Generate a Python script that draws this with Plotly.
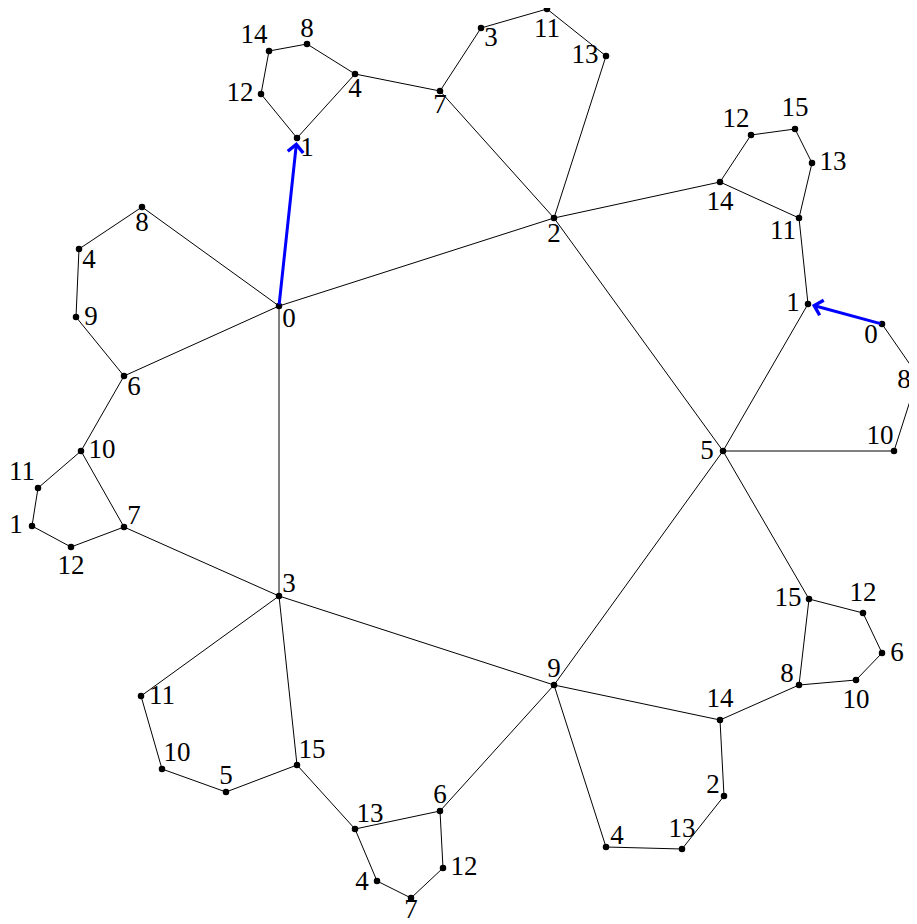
import plotly.graph_objects as go

# ---- data: node ids, labels and layout coordinates ----
node_ids = [
    "c0", "c2", "c5", "c9", "c3",
    "a8", "a4", "a9", "a6",
    "b10", "b11", "b1", "b12", "b7",
    "t1", "t12", "t14", "t8", "t4", "t7",
    "d3", "d11", "d13",
    "e14", "e12", "e15", "e13", "e11", "e1",
    "f0", "f8", "f10",
    "g15", "g12", "g6", "g10", "g8", "g14", "g2", "g13", "g4",
    "h11", "h10", "h5", "h15", "h13", "h6", "h12", "h7", "h4",
]
node_labels = [
    "0", "2", "5", "9", "3",
    "8", "4", "9", "6",
    "10", "11", "1", "12", "7",
    "1", "12", "14", "8", "4", "7",
    "3", "11", "13",
    "14", "12", "15", "13", "11", "1",
    "0", "8", "10",
    "15", "12", "6", "10", "8", "14", "2", "13", "4",
    "11", "10", "5", "15", "13", "6", "12", "7", "4",
]
node_x = [
    279, 554, 723, 554, 279,
    142, 79, 76, 124,
    81, 38, 32, 71, 124,
    297, 261, 269, 307, 355, 440,
    481, 547, 606,
    720, 751, 795, 812, 799, 808,
    882, 918, 894,
    809, 863, 882, 856, 799, 720, 724, 682, 606,
    141, 162, 226, 297, 355, 440, 443, 411, 377,
]
node_y = [
    306, 218, 451, 685, 596,
    207, 249, 317, 376,
    451, 488, 526, 547, 527,
    138, 94, 51, 44, 74, 91,
    28, 9, 56,
    182, 135, 129, 163, 218, 304,
    324, 376, 451,
    599, 613, 653, 680, 685, 720, 796, 849, 847,
    696, 769, 792, 765, 829, 811, 868, 898, 881,
]
edges = [
    ("c0", "c2"), ("c2", "c5"), ("c5", "c9"), ("c9", "c3"), ("c3", "c0"),
    ("c0", "a8"), ("a8", "a4"), ("a4", "a9"), ("a9", "a6"), ("a6", "c0"),
    ("a6", "b10"), ("b10", "b11"), ("b11", "b1"), ("b1", "b12"), ("b12", "b7"),
    ("b7", "b10"), ("b7", "c3"),
    ("t1", "t12"), ("t12", "t14"), ("t14", "t8"), ("t8", "t4"), ("t4", "t1"),
    ("t4", "t7"),
    ("t7", "d3"), ("d3", "d11"), ("d11", "d13"), ("d13", "c2"), ("t7", "c2"),
    ("c2", "e14"), ("e14", "e12"), ("e12", "e15"), ("e15", "e13"), ("e13", "e11"),
    ("e11", "e14"), ("e11", "e1"), ("e1", "c5"),
    ("f0", "f8"), ("f8", "f10"), ("f10", "c5"),
    ("c5", "g15"), ("g15", "g12"), ("g12", "g6"), ("g6", "g10"), ("g10", "g8"),
    ("g8", "g15"), ("g8", "g14"), ("g14", "c9"), ("g14", "g2"), ("g2", "g13"),
    ("g13", "g4"), ("g4", "c9"),
    ("c3", "h11"), ("h11", "h10"), ("h10", "h5"), ("h5", "h15"), ("h15", "c3"),
    ("h15", "h13"), ("h13", "h6"), ("h6", "c9"), ("h6", "h12"), ("h12", "h7"),
    ("h7", "h4"), ("h4", "h13"),
]
arrows = [("c0", "t1"), ("f0", "e1")]  # directed (blue) edges: from -> to

# ---- style: label offsets (dx, dy) relative to the node, screen-pixel units ----
label_offsets = [
    (10, 14), (0, 17), (-16, 1), (0, -15), (10, -11),
    (0, 17), (10, 12), (15, 1), (10, 12),
    (21, 0), (-16, -15), (-16, 0), (0, 20), (10, -10),
    (10, 11), (-21, 0), (-15, -15), (0, -14), (0, 16), (0, 15),
    (10, 11), (0, 21), (-21, 0),
    (0, 21), (-15, -15), (0, -20), (21, 0), (-16, 14), (-15, 0),
    (-11, 12), (-14, 5), (-14, -14),
    (-21, 0), (0, -19), (15, 1), (0, 21), (-12, -10), (0, -20), (-11, -10), (0, -19), (11, -10),
    (21, 1), (15, -15), (0, -15), (15, -14), (15, -14), (0, -15), (21, 0), (0, 13), (-15, 2),
]

idx = {n: i for i, n in enumerate(node_ids)}

ex, ey = [], []
for a, b in edges:
    ex += [node_x[idx[a]], node_x[idx[b]], None]
    ey += [node_y[idx[a]], node_y[idx[b]], None]

fig = go.Figure()
fig.add_trace(go.Scatter(x=ex, y=ey, mode="lines",
                         line=dict(color="black", width=1), hoverinfo="skip"))
fig.add_trace(go.Scatter(x=node_x, y=node_y, mode="markers",
                         marker=dict(color="black", size=6.5), hoverinfo="skip"))
fig.add_trace(go.Scatter(
    x=[x + o[0] for x, o in zip(node_x, label_offsets)],
    y=[y + o[1] for y, o in zip(node_y, label_offsets)],
    mode="text", text=node_labels, textposition="middle center",
    textfont=dict(family="Liberation Serif", size=27, color="black"),
    cliponaxis=False, hoverinfo="skip"))

for a, b in arrows:
    fig.add_annotation(x=node_x[idx[b]], y=node_y[idx[b]],
                       ax=node_x[idx[a]], ay=node_y[idx[a]],
                       xref="x", yref="y", axref="x", ayref="y",
                       text="", showarrow=True, arrowhead=4, arrowsize=1,
                       arrowwidth=3, arrowcolor="#0000ff", standoff=4)

# the page body has an 8px margin: shift the view so layout units equal page pixels
fig.update_layout(
    width=909, height=916, margin=dict(l=0, r=0, t=0, b=0),
    paper_bgcolor="white", plot_bgcolor="white", showlegend=False,
    xaxis=dict(range=[8, 917], visible=False, fixedrange=True),
    yaxis=dict(range=[924, 8], visible=False, fixedrange=True),
)
fig.write_html("out.html")
